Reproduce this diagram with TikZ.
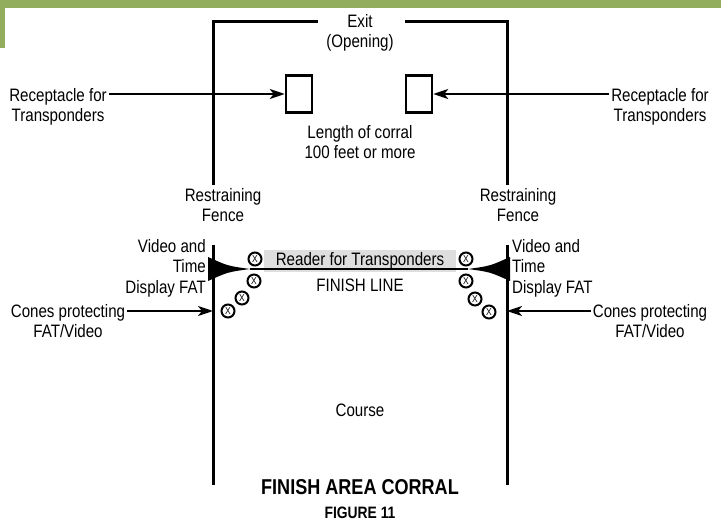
\documentclass[tikz,border=0pt]{standalone}
\usepackage{fontspec}
\setmainfont{Liberation Sans}[FakeStretch=0.84]
\usetikzlibrary{positioning, arrows.meta, calc}
\usepackage{xcolor}
\definecolor{bandgreen}{RGB}{147,173,95}
\definecolor{readergray}{RGB}{222,222,222}
\newcommand{\lblfont}{\fontsize{18}{20.5}\selectfont}
\tikzset{
  lbl/.style={font=\lblfont, align=center, inner sep=2pt},
  title/.style={font=\fontsize{21.5}{24}\selectfont\bfseries, inner sep=1pt},
  subtitle/.style={font=\fontsize{16.5}{19}\selectfont\bfseries, inner sep=1pt},
  fence/.style={line width=3pt},
  recept/.style={draw, line width=2.5pt, minimum width=26pt, minimum height=37pt},
  reader/.style={fill=readergray, minimum width=192pt, minimum height=22pt, inner sep=0pt, font=\lblfont},
  cone/.style={circle, draw, line width=2pt, minimum size=13pt, inner sep=0pt, font=\fontsize{10}{10}\selectfont},
  arr/.style={-{Stealth[length=15pt, width=10pt, inset=4pt]}, line width=2.2pt},
  fat/.style={fill=black}
}
\begin{document}
\begin{tikzpicture}[x=1pt, y=-1pt]
\useasboundingbox (0,0) rectangle (721,521);
\fill[bandgreen] (0,0) rectangle (721,8);
\fill[bandgreen] (0,0) rectangle (5,48);
\node[lbl] (exit) at (360,33) {Exit\\(Opening)};
\draw[fence] (318,22) -| (213,185);
\draw[fence] (213,245) -- (213,485);
\draw[fence] (405,22) -| (507,185);
\draw[fence] (507,245) -- (507,485);
\node[recept] (boxL) at (299,94) {};
\node[recept] (boxR) at (419,94) {};
\node[lbl] (recL) at (58,107) {Receptacle for\\Transponders};
\node[lbl] (recR) at (660,107) {Receptacle for\\Transponders};
\draw[arr] (recL.east |- boxL) -- (boxL.west);
\draw[arr] (recR.west |- boxR) -- (boxR.east);
\node[lbl] (length) at (360,142) {Length of corral\\100 feet or more};
\node[lbl] (restL) at (223,205) {Restraining\\Fence};
\node[lbl] (restR) at (518,205) {Restraining\\Fence};
\node[reader] (reader) at (360,261) {Reader for Transponders};
\coordinate (tipL) at (250,269);
\coordinate (tipR) at (468,269);
\fill[fat] (208,257) .. controls (228,266) .. (tipL) .. controls (228,272) .. (208,281) -- cycle;
\fill[fat] (510,257) .. controls (490,266) .. (tipR) .. controls (490,272) .. (510,281) -- cycle;
\draw[line width=1.6pt] (tipL) -- (tipR);
\node[lbl] (finish) at (360,285) {FINISH LINE};
\node[lbl, anchor=east, align=right] (fatL) at (208,268) {Video and\\Time\\Display FAT};
\node[lbl, anchor=west, align=left] (fatR) at (510,268) {Video and\\Time\\Display FAT};
\foreach \p [count=\i] in {(255,259),(254,281),(242,298),(228,311)}
  \node[cone] (coneL\i) at \p {X};
\foreach \p [count=\i] in {(466,259),(466,281),(475,299),(489,312)}
  \node[cone] (coneR\i) at \p {X};
\coordinate (postL) at (213,311);
\coordinate (postR) at (507,311);
\node[lbl] (protL) at (68,321) {Cones protecting\\FAT/Video};
\node[lbl] (protR) at (650,321) {Cones protecting\\FAT/Video};
\draw[arr] (protL.east |- postL) -- (postL);
\draw[arr] (protR.west |- postR) -- (postR);
\node[lbl] (course) at (360,410) {Course};
\node[title] (corral) at (360,487) {FINISH AREA CORRAL};
\node[subtitle] (fig) at (360,513) {FIGURE 11};
\end{tikzpicture}
\end{document}
